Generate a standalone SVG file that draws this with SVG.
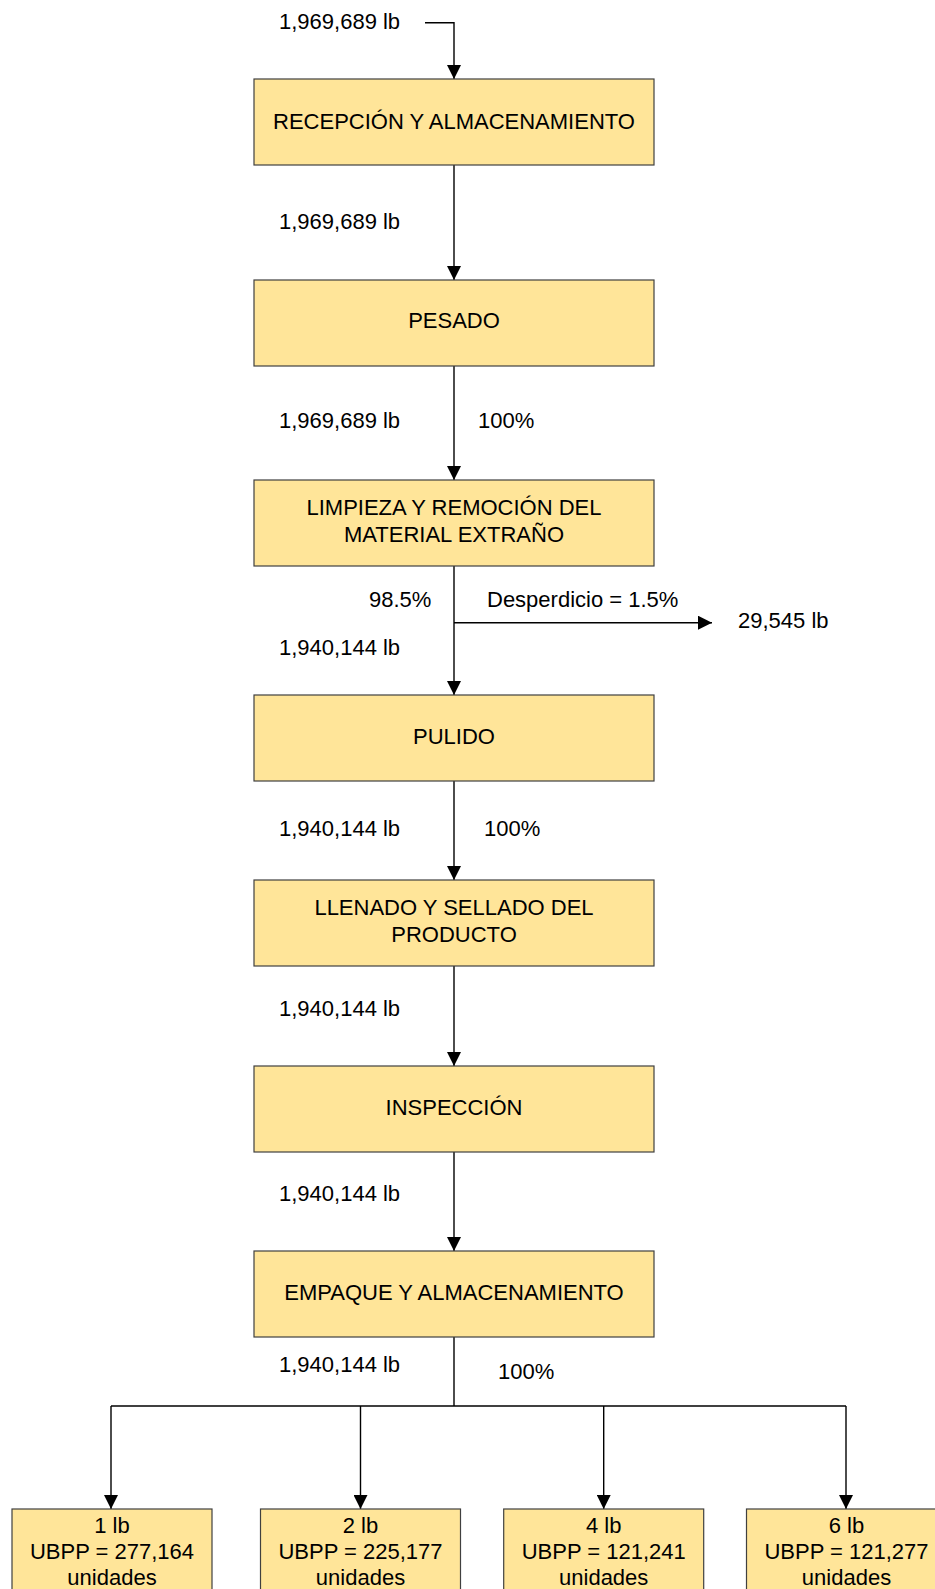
<svg xmlns="http://www.w3.org/2000/svg" width="935" height="1589" viewBox="0 0 935 1589">
<style>
.box{fill:#FFE599;stroke:#404040;stroke-width:1.2}
.t{font-family:"Liberation Sans",Arial,sans-serif;font-size:22px;fill:#000}
.c{text-anchor:middle}
.ln{fill:none;stroke:#000;stroke-width:1.4}
</style>
<defs>
<marker id="ah" markerUnits="userSpaceOnUse" markerWidth="14" markerHeight="14" viewBox="0 0 12 12" refX="12" refY="6" orient="auto">
<path d="M0,0 L12,6 L0,12 Z" fill="#000"/>
</marker>
</defs>
<rect width="935" height="1589" fill="#fff"/>
<g id="connectors">
<path class="ln" d="M425,22.7 H454 V79" marker-end="url(#ah)"/>
<path class="ln" d="M454,165 V280" marker-end="url(#ah)"/>
<path class="ln" d="M454,366 V480" marker-end="url(#ah)"/>
<path class="ln" d="M454,566 V695" marker-end="url(#ah)"/>
<path class="ln" d="M454,622.7 H712" marker-end="url(#ah)"/>
<path class="ln" d="M454,781 V880" marker-end="url(#ah)"/>
<path class="ln" d="M454,966 V1066" marker-end="url(#ah)"/>
<path class="ln" d="M454,1152 V1251" marker-end="url(#ah)"/>
<path class="ln" d="M454,1337 V1406"/>
<path class="ln" d="M111,1406 H846"/>
<path class="ln" d="M111,1406 V1509" marker-end="url(#ah)"/>
<path class="ln" d="M360.5,1406 V1509" marker-end="url(#ah)"/>
<path class="ln" d="M603.7,1406 V1509" marker-end="url(#ah)"/>
<path class="ln" d="M846,1406 V1509" marker-end="url(#ah)"/>
</g>
<g id="labels">
<text class="t" x="279" y="29">1,969,689 lb</text>
<text class="t" x="279" y="229">1,969,689 lb</text>
<text class="t" x="279" y="428">1,969,689 lb</text>
<text class="t" x="478" y="428">100%</text>
<text class="t" x="369" y="607">98.5%</text>
<text class="t" x="487" y="607">Desperdicio = 1.5%</text>
<text class="t" x="738" y="628">29,545 lb</text>
<text class="t" x="279" y="655">1,940,144 lb</text>
<text class="t" x="279" y="836">1,940,144 lb</text>
<text class="t" x="484" y="836">100%</text>
<text class="t" x="279" y="1016">1,940,144 lb</text>
<text class="t" x="279" y="1201">1,940,144 lb</text>
<text class="t" x="279" y="1372">1,940,144 lb</text>
<text class="t" x="498" y="1379">100%</text>
</g>
<g id="n1"><rect class="box" x="254" y="79" width="400" height="86"/><text class="t c" x="454" y="128.5">RECEPCIÓN Y ALMACENAMIENTO</text></g>
<g id="n2"><rect class="box" x="254" y="280" width="400" height="86"/><text class="t c" x="454" y="328">PESADO</text></g>
<g id="n3"><rect class="box" x="254" y="480" width="400" height="86"/><text class="t c" x="454" y="515">LIMPIEZA Y REMOCIÓN DEL</text><text class="t c" x="454" y="541.5">MATERIAL EXTRAÑO</text></g>
<g id="n4"><rect class="box" x="254" y="695" width="400" height="86"/><text class="t c" x="454" y="743.5">PULIDO</text></g>
<g id="n5"><rect class="box" x="254" y="880" width="400" height="86"/><text class="t c" x="454" y="915">LLENADO Y SELLADO DEL</text><text class="t c" x="454" y="941.5">PRODUCTO</text></g>
<g id="n6"><rect class="box" x="254" y="1066" width="400" height="86"/><text class="t c" x="454" y="1114.5">INSPECCIÓN</text></g>
<g id="n7"><rect class="box" x="254" y="1251" width="400" height="86"/><text class="t c" x="454" y="1300">EMPAQUE Y ALMACENAMIENTO</text></g>
<g id="p1"><rect class="box" x="12" y="1509" width="200" height="100"/><text class="t c" x="112" y="1533">1 lb</text><text class="t c" x="112" y="1559">UBPP = 277,164</text><text class="t c" x="112" y="1585">unidades</text></g>
<g id="p2"><rect class="box" x="260.5" y="1509" width="200" height="100"/><text class="t c" x="360.5" y="1533">2 lb</text><text class="t c" x="360.5" y="1559">UBPP = 225,177</text><text class="t c" x="360.5" y="1585">unidades</text></g>
<g id="p3"><rect class="box" x="503.7" y="1509" width="200" height="100"/><text class="t c" x="603.7" y="1533">4 lb</text><text class="t c" x="603.7" y="1559">UBPP = 121,241</text><text class="t c" x="603.7" y="1585">unidades</text></g>
<g id="p4"><rect class="box" x="746.5" y="1509" width="200" height="100"/><text class="t c" x="846.5" y="1533">6 lb</text><text class="t c" x="846.5" y="1559">UBPP = 121,277</text><text class="t c" x="846.5" y="1585">unidades</text></g>
</svg>
